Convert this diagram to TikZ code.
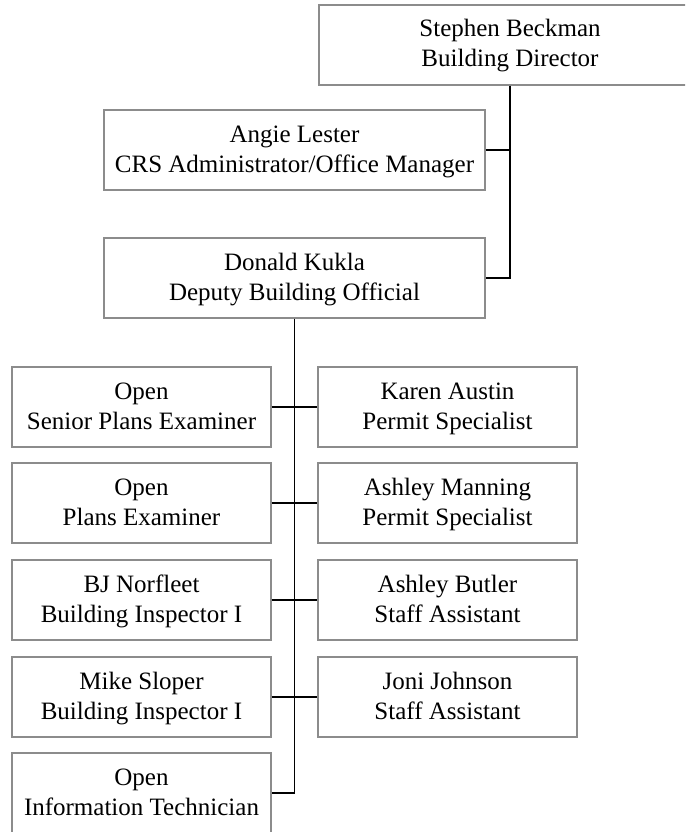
\documentclass[tikz,border=0pt]{standalone}
\usepackage{fontspec}
\setmainfont{Liberation Serif}
\definecolor{boxgray}{RGB}{140,140,140}
\newcommand{\lstrut}{\rule[-8pt]{0pt}{30pt}}
\newcommand{\twolines}[2]{\lstrut #1\\\lstrut #2}
\begin{document}
\begin{tikzpicture}[x=1pt,y=-1pt,
  card/.style={draw=boxgray, line width=1.4pt, rectangle, minimum height=80pt, inner sep=0pt, align=center, font=\fontsize{25}{30}\selectfont},
  wide/.style={card, minimum width=381pt},
  cell/.style={card, minimum width=259pt},
  link/.style={draw=black, line width=1.8pt}]
\useasboundingbox (0,0) rectangle (685,832);
\clip (0,0) rectangle (685,832);
\node[card, minimum width=382pt] (ste) at (510,45) {\twolines{Stephen Beckman}{Building Director}};
\node[wide] (ang) at (294.5,150) {\twolines{Angie Lester}{CRS Administrator/Office Manager}};
\node[wide] (don) at (294.5,278) {\twolines{Donald Kukla}{Deputy Building Official}};
\node[cell] (l1) at (141.5,407) {\twolines{Open}{Senior Plans Examiner}};
\node[cell] (l2) at (141.5,503) {\twolines{Open}{Plans Examiner}};
\node[cell] (l3) at (141.5,600) {\twolines{BJ Norfleet}{Building Inspector I}};
\node[cell] (l4) at (141.5,697) {\twolines{Mike Sloper}{Building Inspector I}};
\node[cell] (l5) at (141.5,793) {\twolines{Open}{Information Technician}};
\node[cell] (r1) at (447.5,407) {\twolines{Karen Austin}{Permit Specialist}};
\node[cell] (r2) at (447.5,503) {\twolines{Ashley Manning}{Permit Specialist}};
\node[cell] (r3) at (447.5,600) {\twolines{Ashley Butler}{Staff Assistant}};
\node[cell] (r4) at (447.5,697) {\twolines{Joni Johnson}{Staff Assistant}};
\draw[link] (ste.south) |- (don.east);
\draw[link] (ang.east) -- (ang.east -| ste.south);
\draw[link] (don.south) |- (l5.east);
\draw[link] (l1.east) -- (r1.west);
\draw[link] (l2.east) -- (r2.west);
\draw[link] (l3.east) -- (r3.west);
\draw[link] (l4.east) -- (r4.west);
\end{tikzpicture}
\end{document}
